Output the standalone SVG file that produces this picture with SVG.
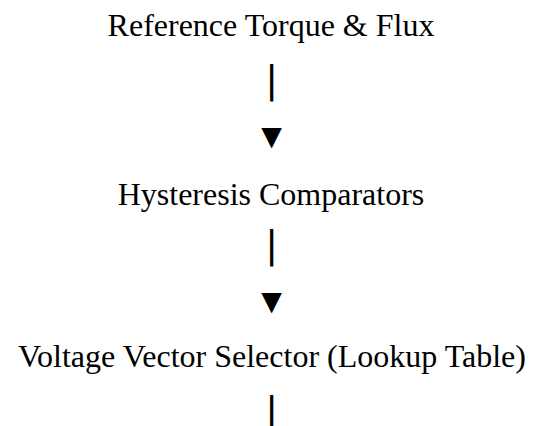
<svg xmlns="http://www.w3.org/2000/svg" width="534" height="426" viewBox="0 0 534 426">
  <style>
    .label { font-family: "Liberation Serif", "Times New Roman", serif; font-size: 32px; fill: #000; text-anchor: middle; }
    .bar { font-family: "DejaVu Sans", sans-serif; font-size: 38px; fill: #000; text-anchor: middle; }
    .tip { font-family: "Liberation Serif", "Times New Roman", serif; font-size: 35px; fill: #000; text-anchor: middle; }
  </style>
  <rect width="534" height="426" fill="#fff"/>
  <g id="node-reference">
    <text class="label" x="271" y="36">Reference Torque &amp; Flux</text>
  </g>
  <g id="node-hysteresis">
    <text class="label" x="271" y="204.5">Hysteresis Comparators</text>
  </g>
  <g id="node-selector">
    <text class="label" x="272" y="367">Voltage Vector Selector (Lookup Table)</text>
  </g>
  <g id="connectors">
    <text class="bar" x="271.7" y="92">|</text>
    <text class="tip" x="271.7" y="147.5">▼</text>
    <text class="bar" x="271.7" y="257">|</text>
    <text class="tip" x="271.7" y="313">▼</text>
    <text class="bar" x="271.7" y="423">|</text>
  </g>
</svg>
